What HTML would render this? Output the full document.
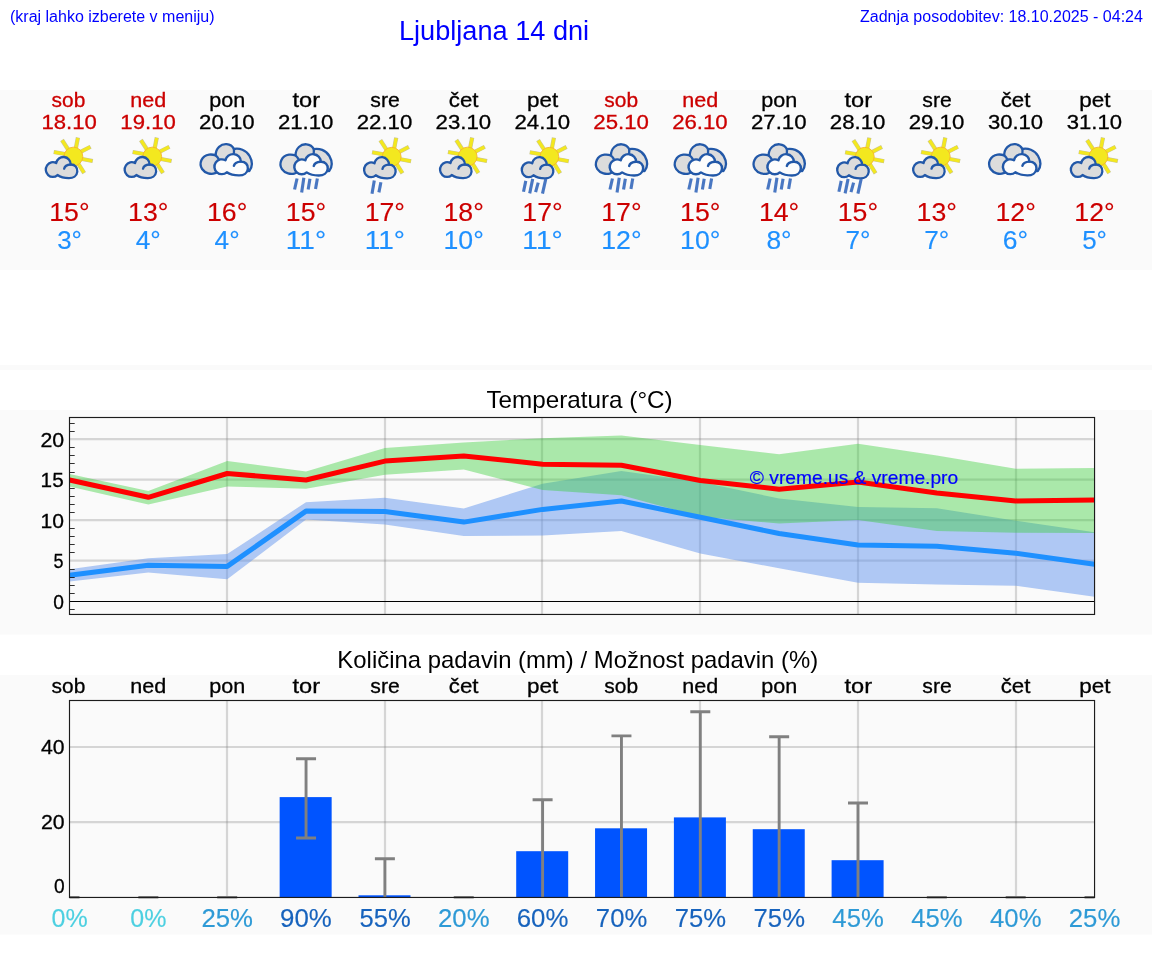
<!DOCTYPE html>
<html><head><meta charset="utf-8"><title>Ljubljana 14 dni</title>
<style>
html,body{margin:0;padding:0;background:#fff}
body{width:1152px;height:975px;position:relative;overflow:hidden;font-family:"Liberation Sans",sans-serif}
.h{position:absolute;color:#0000ff;white-space:nowrap;line-height:1;will-change:transform}
svg{position:absolute;left:0;top:0;will-change:transform}
svg text{font-family:"Liberation Sans",sans-serif}
</style></head><body>
<svg width="1152" height="975" viewBox="0 0 1152 975">
<defs>
<!-- small cloud: local coords, 64x54 box -->
<path id="cp" d="M21.4,43.05 A7,7.4 0 1 1 20.1,31.1 A7.3,7.3 0 0 1 34.6,32.5 C38.8,32.3 41.6,35.6 41.2,39.6 C40.8,44 37,46.3 32.6,46.2 C28,46.1 24.2,45 21.4,43.05 Z"/>
<path id="cw" d="M34.6,32.5 C31.6,32.7 28.6,34.1 28.05,36.7"/>
<g id="cs" stroke="#2258a8" stroke-width="2.3" stroke-linejoin="round" stroke-linecap="round">
<use href="#cp" fill="#dcdcdc"/><use href="#cw" fill="none"/>
</g>
<!-- sun -->
<g id="sun">
<g stroke="#c9c595" stroke-width="4.2" stroke-linecap="butt">
<line x1="33" y1="19" x2="25.9" y2="8"/><line x1="39.2" y1="19" x2="41.85" y2="5.5"/><line x1="42" y1="21.2" x2="54.5" y2="14.75"/><line x1="42" y1="26.3" x2="56.7" y2="29.05"/><line x1="40.5" y1="29" x2="48.1" y2="41.1"/><line x1="33" y1="22.8" x2="17.6" y2="20.05"/>
</g>
<g stroke="#f3e81f" stroke-width="3.2" stroke-linecap="butt">
<line x1="33" y1="19" x2="26.15" y2="8.4"/><line x1="39.2" y1="19" x2="41.75" y2="6"/><line x1="42" y1="21.2" x2="54.05" y2="14.98"/><line x1="42" y1="26.3" x2="56.2" y2="28.95"/><line x1="40.5" y1="29" x2="47.85" y2="40.7"/><line x1="33" y1="22.8" x2="18.1" y2="20.13"/>
</g>
<circle cx="37.3" cy="24.55" r="9.4" fill="#f3e81f" stroke="#f6b42c" stroke-width="0.9"/>
</g>
<g id="sc"><use href="#sun"/><use href="#cs"/></g>
<!-- cloudy: back grey cloud + front white cloud -->
<g id="cl" stroke="#2258a8" stroke-width="2.3" stroke-linejoin="round" stroke-linecap="round">
<path d="M21,41.2 C17,42.6 11,41.5 8,37 C4.5,31.5 7.5,23.5 15,22.6 C17.5,22.3 19.5,22.6 21.6,23.4 C21.5,16 27,11.8 32.5,12.2 C36,12.5 38.5,14.3 39.8,17 C45,16 52,17.8 55.5,24 C58.5,29.3 58.3,35 55.2,39 L48,38 L28,38 Z" fill="#dcdcdc"/>
<path d="M21.6,23.4 C22.6,24.3 23.6,25.4 24.4,26.8" fill="none"/>
<path d="M39.8,17 C39.9,18.2 40,19.6 39.8,20.8" fill="none"/>
<g transform="translate(10.03,-2.99) scale(1.062,1.004)">
<use href="#cp" fill="#fcfcfc"/><use href="#cw" fill="none"/>
</g>
</g>
<!-- rain drops (absolute coords for reference column) -->
<g id="r4c" stroke="#3a6bbd" stroke-width="3.1" stroke-opacity="0.92">
<line x1="297" y1="178.5" x2="294.5" y2="189.5"/><line x1="303.8" y1="177.8" x2="301.6" y2="192.6"/><line x1="309.9" y1="178.8" x2="308.1" y2="189.5"/><line x1="317.3" y1="178.5" x2="315.5" y2="188.9"/>
</g>
<g id="r2" stroke="#3a6bbd" stroke-width="3.1" stroke-opacity="0.92">
<line x1="374.3" y1="180.6" x2="372" y2="193.7"/><line x1="380.9" y1="182.2" x2="378.9" y2="192.4"/>
</g>
<g id="r4" stroke="#3a6bbd" stroke-width="3.1" stroke-opacity="0.92">
<line x1="525.8" y1="180.9" x2="523.5" y2="191.8"/><line x1="532.7" y1="178.9" x2="529.7" y2="193.4"/><line x1="538.2" y1="182.6" x2="535.6" y2="192.1"/><line x1="545.8" y1="178.9" x2="542.5" y2="193.7"/>
</g>
</defs>

<rect x="0" y="90" width="1152" height="180" fill="#fafafa"/>
<rect x="0" y="365" width="1152" height="5" fill="#fafafa"/>
<rect x="0" y="410" width="1152" height="224.5" fill="#fafafa"/>
<rect x="0" y="675" width="1152" height="259.5" fill="#fafafa"/>
<text x="51.58" y="106.90" font-size="20.2" fill="#cc0000" textLength="33.73" lengthAdjust="spacingAndGlyphs" stroke="#cc0000" stroke-width="0.3">sob</text>
<text x="41.53" y="129.00" font-size="20.3" fill="#cc0000" textLength="55.38" lengthAdjust="spacingAndGlyphs" stroke="#cc0000" stroke-width="0.3">18.10</text>
<text x="49.28" y="220.95" font-size="25.3" fill="#cc0000" textLength="40.35" lengthAdjust="spacingAndGlyphs" stroke="#cc0000" stroke-width="0.15">15°</text>
<text x="57.16" y="248.85" font-size="25.3" fill="#1e90ff" textLength="24.80" lengthAdjust="spacingAndGlyphs" stroke="#1e90ff" stroke-width="0.15">3°</text>
<use href="#sc" x="36.10" y="132"/>
<text x="130.35" y="106.90" font-size="20.2" fill="#cc0000" textLength="35.96" lengthAdjust="spacingAndGlyphs" stroke="#cc0000" stroke-width="0.3">ned</text>
<text x="120.38" y="129.00" font-size="20.3" fill="#cc0000" textLength="55.38" lengthAdjust="spacingAndGlyphs" stroke="#cc0000" stroke-width="0.3">19.10</text>
<text x="128.13" y="220.95" font-size="25.3" fill="#cc0000" textLength="40.35" lengthAdjust="spacingAndGlyphs" stroke="#cc0000" stroke-width="0.15">13°</text>
<text x="135.73" y="248.85" font-size="25.3" fill="#1e90ff" textLength="25.09" lengthAdjust="spacingAndGlyphs" stroke="#1e90ff" stroke-width="0.15">4°</text>
<use href="#sc" x="114.95" y="132"/>
<text x="209.27" y="106.90" font-size="20.2" fill="#000" textLength="35.98" lengthAdjust="spacingAndGlyphs" stroke="#000" stroke-width="0.3">pon</text>
<text x="199.07" y="129.00" font-size="20.3" fill="#000" textLength="55.55" lengthAdjust="spacingAndGlyphs" stroke="#000" stroke-width="0.3">20.10</text>
<text x="206.98" y="220.95" font-size="25.3" fill="#cc0000" textLength="40.35" lengthAdjust="spacingAndGlyphs" stroke="#cc0000" stroke-width="0.15">16°</text>
<text x="214.58" y="248.85" font-size="25.3" fill="#1e90ff" textLength="25.09" lengthAdjust="spacingAndGlyphs" stroke="#1e90ff" stroke-width="0.15">4°</text>
<use href="#cl" x="194.10" y="132"/>
<text x="292.53" y="106.90" font-size="20.2" fill="#000" textLength="27.61" lengthAdjust="spacingAndGlyphs" stroke="#000" stroke-width="0.3">tor</text>
<text x="277.92" y="129.00" font-size="20.3" fill="#000" textLength="55.55" lengthAdjust="spacingAndGlyphs" stroke="#000" stroke-width="0.3">21.10</text>
<text x="285.83" y="220.95" font-size="25.3" fill="#cc0000" textLength="40.35" lengthAdjust="spacingAndGlyphs" stroke="#cc0000" stroke-width="0.15">15°</text>
<text x="285.83" y="248.85" font-size="25.3" fill="#1e90ff" textLength="40.35" lengthAdjust="spacingAndGlyphs" stroke="#1e90ff" stroke-width="0.15">11°</text>
<use href="#cl" x="273.95" y="132.1"/>
<use href="#r4c" x="0.05" y="0"/>
<text x="370.37" y="106.90" font-size="20.2" fill="#000" textLength="29.43" lengthAdjust="spacingAndGlyphs" stroke="#000" stroke-width="0.3">sre</text>
<text x="356.77" y="129.00" font-size="20.3" fill="#000" textLength="55.55" lengthAdjust="spacingAndGlyphs" stroke="#000" stroke-width="0.3">22.10</text>
<text x="364.68" y="220.95" font-size="25.3" fill="#cc0000" textLength="40.35" lengthAdjust="spacingAndGlyphs" stroke="#cc0000" stroke-width="0.15">17°</text>
<text x="364.68" y="248.85" font-size="25.3" fill="#1e90ff" textLength="40.35" lengthAdjust="spacingAndGlyphs" stroke="#1e90ff" stroke-width="0.15">11°</text>
<use href="#sc" x="354.40" y="132.2"/>
<use href="#r2" x="0.00" y="0"/>
<text x="448.78" y="106.90" font-size="20.2" fill="#000" textLength="29.77" lengthAdjust="spacingAndGlyphs" stroke="#000" stroke-width="0.3">čet</text>
<text x="435.62" y="129.00" font-size="20.3" fill="#000" textLength="55.55" lengthAdjust="spacingAndGlyphs" stroke="#000" stroke-width="0.3">23.10</text>
<text x="443.53" y="220.95" font-size="25.3" fill="#cc0000" textLength="40.35" lengthAdjust="spacingAndGlyphs" stroke="#cc0000" stroke-width="0.15">18°</text>
<text x="443.53" y="248.85" font-size="25.3" fill="#1e90ff" textLength="40.35" lengthAdjust="spacingAndGlyphs" stroke="#1e90ff" stroke-width="0.15">10°</text>
<use href="#sc" x="430.35" y="132"/>
<text x="527.00" y="106.90" font-size="20.2" fill="#000" textLength="31.26" lengthAdjust="spacingAndGlyphs" stroke="#000" stroke-width="0.3">pet</text>
<text x="514.47" y="129.00" font-size="20.3" fill="#000" textLength="55.55" lengthAdjust="spacingAndGlyphs" stroke="#000" stroke-width="0.3">24.10</text>
<text x="522.38" y="220.95" font-size="25.3" fill="#cc0000" textLength="40.35" lengthAdjust="spacingAndGlyphs" stroke="#cc0000" stroke-width="0.15">17°</text>
<text x="522.38" y="248.85" font-size="25.3" fill="#1e90ff" textLength="40.35" lengthAdjust="spacingAndGlyphs" stroke="#1e90ff" stroke-width="0.15">11°</text>
<use href="#sc" x="512.10" y="132.2"/>
<use href="#r4" x="-0.00" y="0"/>
<text x="604.33" y="106.90" font-size="20.2" fill="#cc0000" textLength="33.73" lengthAdjust="spacingAndGlyphs" stroke="#cc0000" stroke-width="0.3">sob</text>
<text x="593.32" y="129.00" font-size="20.3" fill="#cc0000" textLength="55.55" lengthAdjust="spacingAndGlyphs" stroke="#cc0000" stroke-width="0.3">25.10</text>
<text x="601.23" y="220.95" font-size="25.3" fill="#cc0000" textLength="40.35" lengthAdjust="spacingAndGlyphs" stroke="#cc0000" stroke-width="0.15">17°</text>
<text x="601.23" y="248.85" font-size="25.3" fill="#1e90ff" textLength="40.35" lengthAdjust="spacingAndGlyphs" stroke="#1e90ff" stroke-width="0.15">12°</text>
<use href="#cl" x="589.35" y="132.1"/>
<use href="#r4c" x="315.45" y="0"/>
<text x="682.30" y="106.90" font-size="20.2" fill="#cc0000" textLength="35.96" lengthAdjust="spacingAndGlyphs" stroke="#cc0000" stroke-width="0.3">ned</text>
<text x="672.17" y="129.00" font-size="20.3" fill="#cc0000" textLength="55.55" lengthAdjust="spacingAndGlyphs" stroke="#cc0000" stroke-width="0.3">26.10</text>
<text x="680.08" y="220.95" font-size="25.3" fill="#cc0000" textLength="40.35" lengthAdjust="spacingAndGlyphs" stroke="#cc0000" stroke-width="0.15">15°</text>
<text x="680.08" y="248.85" font-size="25.3" fill="#1e90ff" textLength="40.35" lengthAdjust="spacingAndGlyphs" stroke="#1e90ff" stroke-width="0.15">10°</text>
<use href="#cl" x="668.20" y="132.1"/>
<use href="#r4c" x="394.30" y="0"/>
<text x="761.22" y="106.90" font-size="20.2" fill="#000" textLength="35.98" lengthAdjust="spacingAndGlyphs" stroke="#000" stroke-width="0.3">pon</text>
<text x="751.02" y="129.00" font-size="20.3" fill="#000" textLength="55.55" lengthAdjust="spacingAndGlyphs" stroke="#000" stroke-width="0.3">27.10</text>
<text x="758.93" y="220.95" font-size="25.3" fill="#cc0000" textLength="40.35" lengthAdjust="spacingAndGlyphs" stroke="#cc0000" stroke-width="0.15">14°</text>
<text x="766.45" y="248.85" font-size="25.3" fill="#1e90ff" textLength="25.18" lengthAdjust="spacingAndGlyphs" stroke="#1e90ff" stroke-width="0.15">8°</text>
<use href="#cl" x="747.05" y="132.1"/>
<use href="#r4c" x="473.15" y="0"/>
<text x="844.48" y="106.90" font-size="20.2" fill="#000" textLength="27.61" lengthAdjust="spacingAndGlyphs" stroke="#000" stroke-width="0.3">tor</text>
<text x="829.87" y="129.00" font-size="20.3" fill="#000" textLength="55.55" lengthAdjust="spacingAndGlyphs" stroke="#000" stroke-width="0.3">28.10</text>
<text x="837.78" y="220.95" font-size="25.3" fill="#cc0000" textLength="40.35" lengthAdjust="spacingAndGlyphs" stroke="#cc0000" stroke-width="0.15">15°</text>
<text x="845.44" y="248.85" font-size="25.3" fill="#1e90ff" textLength="25.03" lengthAdjust="spacingAndGlyphs" stroke="#1e90ff" stroke-width="0.15">7°</text>
<use href="#sc" x="827.50" y="132.2"/>
<use href="#r4" x="315.40" y="0"/>
<text x="922.32" y="106.90" font-size="20.2" fill="#000" textLength="29.43" lengthAdjust="spacingAndGlyphs" stroke="#000" stroke-width="0.3">sre</text>
<text x="908.72" y="129.00" font-size="20.3" fill="#000" textLength="55.55" lengthAdjust="spacingAndGlyphs" stroke="#000" stroke-width="0.3">29.10</text>
<text x="916.63" y="220.95" font-size="25.3" fill="#cc0000" textLength="40.35" lengthAdjust="spacingAndGlyphs" stroke="#cc0000" stroke-width="0.15">13°</text>
<text x="924.29" y="248.85" font-size="25.3" fill="#1e90ff" textLength="25.03" lengthAdjust="spacingAndGlyphs" stroke="#1e90ff" stroke-width="0.15">7°</text>
<use href="#sc" x="903.45" y="132"/>
<text x="1000.73" y="106.90" font-size="20.2" fill="#000" textLength="29.77" lengthAdjust="spacingAndGlyphs" stroke="#000" stroke-width="0.3">čet</text>
<text x="987.91" y="129.00" font-size="20.3" fill="#000" textLength="55.21" lengthAdjust="spacingAndGlyphs" stroke="#000" stroke-width="0.3">30.10</text>
<text x="995.48" y="220.95" font-size="25.3" fill="#cc0000" textLength="40.35" lengthAdjust="spacingAndGlyphs" stroke="#cc0000" stroke-width="0.15">12°</text>
<text x="1002.84" y="248.85" font-size="25.3" fill="#1e90ff" textLength="25.35" lengthAdjust="spacingAndGlyphs" stroke="#1e90ff" stroke-width="0.15">6°</text>
<use href="#cl" x="982.60" y="132"/>
<text x="1079.35" y="106.90" font-size="20.2" fill="#000" textLength="31.26" lengthAdjust="spacingAndGlyphs" stroke="#000" stroke-width="0.3">pet</text>
<text x="1066.76" y="129.00" font-size="20.3" fill="#000" textLength="55.21" lengthAdjust="spacingAndGlyphs" stroke="#000" stroke-width="0.3">31.10</text>
<text x="1074.33" y="220.95" font-size="25.3" fill="#cc0000" textLength="40.35" lengthAdjust="spacingAndGlyphs" stroke="#cc0000" stroke-width="0.15">12°</text>
<text x="1082.18" y="248.85" font-size="25.3" fill="#1e90ff" textLength="24.83" lengthAdjust="spacingAndGlyphs" stroke="#1e90ff" stroke-width="0.15">5°</text>
<use href="#sc" x="1061.15" y="132"/>
<g>
<line x1="69.5" x2="1094.55" y1="560.55" y2="560.55" stroke="#808080" stroke-opacity="0.3" stroke-width="2.2"/>
<line x1="69.5" x2="1094.55" y1="520.10" y2="520.10" stroke="#808080" stroke-opacity="0.3" stroke-width="2.2"/>
<line x1="69.5" x2="1094.55" y1="479.65" y2="479.65" stroke="#808080" stroke-opacity="0.3" stroke-width="2.2"/>
<line x1="69.5" x2="1094.55" y1="439.20" y2="439.20" stroke="#808080" stroke-opacity="0.3" stroke-width="2.2"/>
<line x1="227.00" x2="227.00" y1="417.5" y2="614.45" stroke="#808080" stroke-opacity="0.3" stroke-width="2.2"/>
<line x1="385.00" x2="385.00" y1="417.5" y2="614.45" stroke="#808080" stroke-opacity="0.3" stroke-width="2.2"/>
<line x1="542.00" x2="542.00" y1="417.5" y2="614.45" stroke="#808080" stroke-opacity="0.3" stroke-width="2.2"/>
<line x1="700.00" x2="700.00" y1="417.5" y2="614.45" stroke="#808080" stroke-opacity="0.3" stroke-width="2.2"/>
<line x1="858.00" x2="858.00" y1="417.5" y2="614.45" stroke="#808080" stroke-opacity="0.3" stroke-width="2.2"/>
<line x1="1016.00" x2="1016.00" y1="417.5" y2="614.45" stroke="#808080" stroke-opacity="0.3" stroke-width="2.2"/>
<polygon points="69.5,569.3 148.3,558.3 227.2,554.1 306.0,502.2 384.9,497.8 463.8,508.4 542.6,483.7 621.4,471.0 700.3,482.0 779.1,498.5 858.0,507.0 936.8,508.3 1015.7,520.7 1094.5,532.2 1094.5,596.7 1015.7,585.7 936.8,584.4 858.0,582.8 779.1,568.2 700.3,553.5 621.4,531.0 542.6,535.5 463.8,535.9 384.9,524.5 306.0,519.5 227.2,579.2 148.3,572.5 69.5,581.4" fill="#6495ed" fill-opacity="0.5"/>
<polygon points="69.5,473.9 148.3,491.1 227.2,461.0 306.0,471.4 384.9,448.0 463.8,442.4 542.6,438.3 621.4,435.5 700.3,444.9 779.1,454.3 858.0,443.7 936.8,455.6 1015.7,468.7 1094.5,468.0 1094.5,532.9 1015.7,532.7 936.8,531.0 858.0,520.0 779.1,523.5 700.3,516.7 621.4,495.2 542.6,490.0 463.8,469.5 384.9,474.7 306.0,488.8 227.2,486.5 148.3,504.5 69.5,486.6" fill="#32cd32" fill-opacity="0.4"/>
<line x1="69.5" x2="1094.55" y1="601.5" y2="601.5" stroke="#000" stroke-width="1.1"/>
<polyline points="69.5,575.2 148.3,565.2 227.2,566.4 306.0,511.1 384.9,511.6 463.8,522.1 542.6,509.4 621.4,501.0 700.3,517.3 779.1,533.5 858.0,545.0 936.8,546.2 1015.7,553.2 1094.5,564.2" fill="none" stroke="#1e90ff" stroke-width="5.0" stroke-linejoin="round" stroke-linecap="butt"/>
<polyline points="69.5,480.0 148.3,497.3 227.2,473.5 306.0,480.0 384.9,461.1 463.8,456.0 542.6,464.2 621.4,465.3 700.3,480.5 779.1,489.2 858.0,481.9 936.8,492.9 1015.7,500.9 1094.5,500.0" fill="none" stroke="#ff0000" stroke-width="5.0" stroke-linejoin="round" stroke-linecap="butt"/>
<line x1="69.5" x2="74.7" y1="609.50" y2="609.50" stroke="#1a1a1a" stroke-width="0.9"/>
<line x1="69.5" x2="74.7" y1="593.50" y2="593.50" stroke="#1a1a1a" stroke-width="0.9"/>
<line x1="69.5" x2="74.7" y1="585.50" y2="585.50" stroke="#1a1a1a" stroke-width="0.9"/>
<line x1="69.5" x2="74.7" y1="577.50" y2="577.50" stroke="#1a1a1a" stroke-width="0.9"/>
<line x1="69.5" x2="74.7" y1="569.50" y2="569.50" stroke="#1a1a1a" stroke-width="0.9"/>
<line x1="69.5" x2="74.7" y1="552.50" y2="552.50" stroke="#1a1a1a" stroke-width="0.9"/>
<line x1="69.5" x2="74.7" y1="544.50" y2="544.50" stroke="#1a1a1a" stroke-width="0.9"/>
<line x1="69.5" x2="74.7" y1="536.50" y2="536.50" stroke="#1a1a1a" stroke-width="0.9"/>
<line x1="69.5" x2="74.7" y1="528.50" y2="528.50" stroke="#1a1a1a" stroke-width="0.9"/>
<line x1="69.5" x2="74.7" y1="512.50" y2="512.50" stroke="#1a1a1a" stroke-width="0.9"/>
<line x1="69.5" x2="74.7" y1="504.50" y2="504.50" stroke="#1a1a1a" stroke-width="0.9"/>
<line x1="69.5" x2="74.7" y1="496.50" y2="496.50" stroke="#1a1a1a" stroke-width="0.9"/>
<line x1="69.5" x2="74.7" y1="488.50" y2="488.50" stroke="#1a1a1a" stroke-width="0.9"/>
<line x1="69.5" x2="74.7" y1="472.50" y2="472.50" stroke="#1a1a1a" stroke-width="0.9"/>
<line x1="69.5" x2="74.7" y1="463.50" y2="463.50" stroke="#1a1a1a" stroke-width="0.9"/>
<line x1="69.5" x2="74.7" y1="455.50" y2="455.50" stroke="#1a1a1a" stroke-width="0.9"/>
<line x1="69.5" x2="74.7" y1="447.50" y2="447.50" stroke="#1a1a1a" stroke-width="0.9"/>
<line x1="69.5" x2="74.7" y1="431.50" y2="431.50" stroke="#1a1a1a" stroke-width="0.9"/>
<line x1="69.5" x2="74.7" y1="423.50" y2="423.50" stroke="#1a1a1a" stroke-width="0.9"/>
<rect x="69.5" y="417.5" width="1025.05" height="196.95000000000005" fill="none" stroke="#1c1c1c" stroke-width="1.15"/>
<text x="53.29" y="608.65" font-size="20.3" fill="#000" textLength="10.68" lengthAdjust="spacingAndGlyphs" stroke="#000" stroke-width="0.3">0</text>
<text x="53.55" y="568.20" font-size="20.3" fill="#000" textLength="10.01" lengthAdjust="spacingAndGlyphs" stroke="#000" stroke-width="0.3">5</text>
<text x="40.59" y="527.75" font-size="20.3" fill="#000" textLength="23.45" lengthAdjust="spacingAndGlyphs" stroke="#000" stroke-width="0.3">10</text>
<text x="40.62" y="487.30" font-size="20.3" fill="#000" textLength="23.05" lengthAdjust="spacingAndGlyphs" stroke="#000" stroke-width="0.3">15</text>
<text x="40.40" y="446.85" font-size="20.3" fill="#000" textLength="23.66" lengthAdjust="spacingAndGlyphs" stroke="#000" stroke-width="0.3">20</text>
<text x="486.50" y="407.70" font-size="23.2" fill="#000" textLength="186.19" lengthAdjust="spacingAndGlyphs">Temperatura (°C)</text>
<text x="749.83" y="483.50" font-size="18.6" fill="#0000ff" textLength="208.34" lengthAdjust="spacingAndGlyphs" stroke="#0000ff" stroke-width="0.2">© vreme.us &amp; vreme.pro</text>
</g>
<g>
<line x1="69.5" x2="1094.55" y1="822.22" y2="822.22" stroke="#808080" stroke-opacity="0.3" stroke-width="2.2"/>
<line x1="69.5" x2="1094.55" y1="746.99" y2="746.99" stroke="#808080" stroke-opacity="0.3" stroke-width="2.2"/>
<line x1="227.00" x2="227.00" y1="700.5" y2="897.45" stroke="#808080" stroke-opacity="0.3" stroke-width="2.2"/>
<line x1="385.00" x2="385.00" y1="700.5" y2="897.45" stroke="#808080" stroke-opacity="0.3" stroke-width="2.2"/>
<line x1="542.00" x2="542.00" y1="700.5" y2="897.45" stroke="#808080" stroke-opacity="0.3" stroke-width="2.2"/>
<line x1="700.00" x2="700.00" y1="700.5" y2="897.45" stroke="#808080" stroke-opacity="0.3" stroke-width="2.2"/>
<line x1="858.00" x2="858.00" y1="700.5" y2="897.45" stroke="#808080" stroke-opacity="0.3" stroke-width="2.2"/>
<line x1="1016.00" x2="1016.00" y1="700.5" y2="897.45" stroke="#808080" stroke-opacity="0.3" stroke-width="2.2"/>
<rect x="279.65" y="797.10" width="52.00" height="100.35" fill="#0054ff"/>
<rect x="358.50" y="895.30" width="52.00" height="2.15" fill="#0054ff"/>
<rect x="516.20" y="851.20" width="52.00" height="46.25" fill="#0054ff"/>
<rect x="595.05" y="828.30" width="52.00" height="69.15" fill="#0054ff"/>
<rect x="673.90" y="817.40" width="52.00" height="80.05" fill="#0054ff"/>
<rect x="752.75" y="829.20" width="52.00" height="68.25" fill="#0054ff"/>
<rect x="831.60" y="860.20" width="52.00" height="37.25" fill="#0054ff"/>
<clipPath id="pc"><rect x="69.5" y="698.5" width="1025.05" height="199.95000000000005"/></clipPath>
<g clip-path="url(#pc)" stroke="#808080" stroke-width="2.9">
<line x1="59.50" x2="79.50" y1="897.45" y2="897.45"/>
<line x1="138.35" x2="158.35" y1="897.45" y2="897.45"/>
<line x1="217.20" x2="237.20" y1="897.45" y2="897.45"/>
<line x1="306.05" x2="306.05" y1="758.80" y2="838.00"/>
<line x1="296.05" x2="316.05" y1="758.80" y2="758.80"/>
<line x1="296.05" x2="316.05" y1="838.00" y2="838.00"/>
<line x1="384.90" x2="384.90" y1="858.80" y2="897.45"/>
<line x1="374.90" x2="394.90" y1="858.80" y2="858.80"/>
<line x1="453.75" x2="473.75" y1="897.45" y2="897.45"/>
<line x1="542.60" x2="542.60" y1="799.70" y2="897.45"/>
<line x1="532.60" x2="552.60" y1="799.70" y2="799.70"/>
<line x1="621.45" x2="621.45" y1="735.90" y2="897.45"/>
<line x1="611.45" x2="631.45" y1="735.90" y2="735.90"/>
<line x1="700.30" x2="700.30" y1="711.70" y2="897.45"/>
<line x1="690.30" x2="710.30" y1="711.70" y2="711.70"/>
<line x1="779.15" x2="779.15" y1="736.70" y2="897.45"/>
<line x1="769.15" x2="789.15" y1="736.70" y2="736.70"/>
<line x1="858.00" x2="858.00" y1="803.00" y2="897.45"/>
<line x1="848.00" x2="868.00" y1="803.00" y2="803.00"/>
<line x1="926.85" x2="946.85" y1="897.45" y2="897.45"/>
<line x1="1005.70" x2="1025.70" y1="897.45" y2="897.45"/>
<line x1="1084.55" x2="1104.55" y1="897.45" y2="897.45"/>
</g>
<rect x="69.5" y="700.5" width="1025.05" height="196.95000000000005" fill="none" stroke="#1c1c1c" stroke-width="1.15"/>
<text x="51.58" y="692.80" font-size="20.2" fill="#000" textLength="33.73" lengthAdjust="spacingAndGlyphs" stroke="#000" stroke-width="0.3">sob</text>
<text x="130.35" y="692.80" font-size="20.2" fill="#000" textLength="35.96" lengthAdjust="spacingAndGlyphs" stroke="#000" stroke-width="0.3">ned</text>
<text x="209.27" y="692.80" font-size="20.2" fill="#000" textLength="35.98" lengthAdjust="spacingAndGlyphs" stroke="#000" stroke-width="0.3">pon</text>
<text x="292.53" y="692.80" font-size="20.2" fill="#000" textLength="27.61" lengthAdjust="spacingAndGlyphs" stroke="#000" stroke-width="0.3">tor</text>
<text x="370.37" y="692.80" font-size="20.2" fill="#000" textLength="29.43" lengthAdjust="spacingAndGlyphs" stroke="#000" stroke-width="0.3">sre</text>
<text x="448.78" y="692.80" font-size="20.2" fill="#000" textLength="29.77" lengthAdjust="spacingAndGlyphs" stroke="#000" stroke-width="0.3">čet</text>
<text x="527.00" y="692.80" font-size="20.2" fill="#000" textLength="31.26" lengthAdjust="spacingAndGlyphs" stroke="#000" stroke-width="0.3">pet</text>
<text x="604.33" y="692.80" font-size="20.2" fill="#000" textLength="33.73" lengthAdjust="spacingAndGlyphs" stroke="#000" stroke-width="0.3">sob</text>
<text x="682.30" y="692.80" font-size="20.2" fill="#000" textLength="35.96" lengthAdjust="spacingAndGlyphs" stroke="#000" stroke-width="0.3">ned</text>
<text x="761.22" y="692.80" font-size="20.2" fill="#000" textLength="35.98" lengthAdjust="spacingAndGlyphs" stroke="#000" stroke-width="0.3">pon</text>
<text x="844.48" y="692.80" font-size="20.2" fill="#000" textLength="27.61" lengthAdjust="spacingAndGlyphs" stroke="#000" stroke-width="0.3">tor</text>
<text x="922.32" y="692.80" font-size="20.2" fill="#000" textLength="29.43" lengthAdjust="spacingAndGlyphs" stroke="#000" stroke-width="0.3">sre</text>
<text x="1000.73" y="692.80" font-size="20.2" fill="#000" textLength="29.77" lengthAdjust="spacingAndGlyphs" stroke="#000" stroke-width="0.3">čet</text>
<text x="1079.35" y="692.80" font-size="20.2" fill="#000" textLength="31.26" lengthAdjust="spacingAndGlyphs" stroke="#000" stroke-width="0.3">pet</text>
<text x="41.09" y="753.79" font-size="20.3" fill="#000" textLength="23.56" lengthAdjust="spacingAndGlyphs" stroke="#000" stroke-width="0.3">40</text>
<text x="41.00" y="829.02" font-size="20.3" fill="#000" textLength="23.66" lengthAdjust="spacingAndGlyphs" stroke="#000" stroke-width="0.3">20</text>
<text x="53.89" y="892.60" font-size="20.3" fill="#000" textLength="10.68" lengthAdjust="spacingAndGlyphs" stroke="#000" stroke-width="0.3">0</text>
<text x="337.38" y="668.20" font-size="23.2" fill="#000" textLength="480.85" lengthAdjust="spacingAndGlyphs">Količina padavin (mm) / Možnost padavin (%)</text>
<text x="51.52" y="926.70" font-size="25.3" fill="#4dd0e1" textLength="36.14" lengthAdjust="spacingAndGlyphs" stroke="#4dd0e1" stroke-width="0.15">0%</text>
<text x="130.37" y="926.70" font-size="25.3" fill="#4dd0e1" textLength="36.14" lengthAdjust="spacingAndGlyphs" stroke="#4dd0e1" stroke-width="0.15">0%</text>
<text x="201.44" y="926.70" font-size="25.3" fill="#2e9ad6" textLength="51.58" lengthAdjust="spacingAndGlyphs" stroke="#2e9ad6" stroke-width="0.15">25%</text>
<text x="280.13" y="926.70" font-size="25.3" fill="#1763bd" textLength="51.74" lengthAdjust="spacingAndGlyphs" stroke="#1763bd" stroke-width="0.15">90%</text>
<text x="359.51" y="926.70" font-size="25.3" fill="#1763bd" textLength="51.20" lengthAdjust="spacingAndGlyphs" stroke="#1763bd" stroke-width="0.15">55%</text>
<text x="437.99" y="926.70" font-size="25.3" fill="#2e9ad6" textLength="51.58" lengthAdjust="spacingAndGlyphs" stroke="#2e9ad6" stroke-width="0.15">20%</text>
<text x="516.74" y="926.70" font-size="25.3" fill="#1763bd" textLength="51.68" lengthAdjust="spacingAndGlyphs" stroke="#1763bd" stroke-width="0.15">60%</text>
<text x="595.88" y="926.70" font-size="25.3" fill="#1763bd" textLength="51.38" lengthAdjust="spacingAndGlyphs" stroke="#1763bd" stroke-width="0.15">70%</text>
<text x="674.73" y="926.70" font-size="25.3" fill="#1763bd" textLength="51.38" lengthAdjust="spacingAndGlyphs" stroke="#1763bd" stroke-width="0.15">75%</text>
<text x="753.58" y="926.70" font-size="25.3" fill="#1763bd" textLength="51.38" lengthAdjust="spacingAndGlyphs" stroke="#1763bd" stroke-width="0.15">75%</text>
<text x="832.36" y="926.70" font-size="25.3" fill="#2e9ad6" textLength="51.45" lengthAdjust="spacingAndGlyphs" stroke="#2e9ad6" stroke-width="0.15">45%</text>
<text x="911.21" y="926.70" font-size="25.3" fill="#2e9ad6" textLength="51.45" lengthAdjust="spacingAndGlyphs" stroke="#2e9ad6" stroke-width="0.15">45%</text>
<text x="990.06" y="926.70" font-size="25.3" fill="#2e9ad6" textLength="51.45" lengthAdjust="spacingAndGlyphs" stroke="#2e9ad6" stroke-width="0.15">40%</text>
<text x="1068.79" y="926.70" font-size="25.3" fill="#2e9ad6" textLength="51.58" lengthAdjust="spacingAndGlyphs" stroke="#2e9ad6" stroke-width="0.15">25%</text>
</g>
</svg>
<div class="h" style="left:10px;top:9px;font-size:16px">(kraj lahko izberete v meniju)</div>
<div class="h" style="left:398.7px;top:16.6px;font-size:27.15px">Ljubljana 14 dni</div>
<div class="h" style="right:9.5px;top:9px;font-size:16px">Zadnja posodobitev: 18.10.2025 - 04:24</div>
</body></html>
